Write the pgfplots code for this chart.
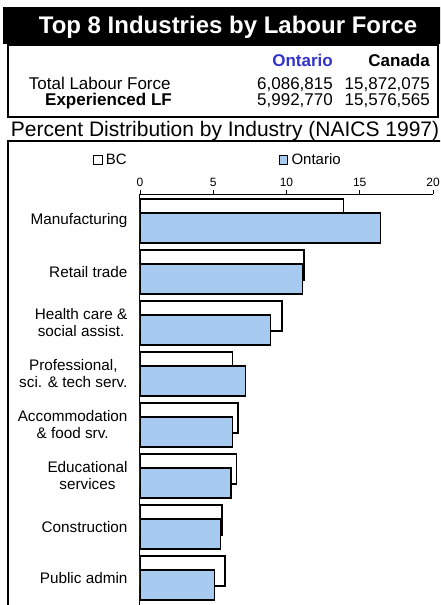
\documentclass[border=0pt]{standalone}
\usepackage{fontspec}
\setmainfont{Liberation Sans}
\usepackage{pgfplots}
\usepackage{pgfplotstable}
\pgfplotsset{compat=1.18}

\definecolor{onbar}{RGB}{166,202,240}
\definecolor{ontext}{RGB}{51,51,204}

% position (0 = bottom), BC share, Ontario share (percent)
\pgfplotstableread{
pos bc   ont
7   13.9 16.4
6   11.2 11.1
5   9.7  8.9
4   6.3  7.2
3   6.7  6.3
2   6.6  6.2
1   5.6  5.5
0   5.8  5.1
}\industry

\begin{document}
\begin{tikzpicture}
\useasboundingbox (0,0) rectangle (440pt,-605pt);
\clip (0,0) rectangle (440pt,-605pt);

% title band
\fill[black] (3pt,-7pt) rectangle (445pt,-44pt);
\node[anchor=base, inner sep=0pt, text=white,
      font=\fontsize{24}{28}\selectfont\bfseries] at (228pt,-33.3pt)
      {Top 8 Industries by Labour Force};

% header table
\draw[line width=1.2pt] (8pt,-45pt) rectangle (438pt,-117pt);
\begin{scope}[every node/.style={inner sep=0pt, font=\fontsize{17}{20}\selectfont}]
\node[anchor=base east, text=ontext, font=\fontsize{17}{20}\selectfont\bfseries] at (333pt,-66pt) {Ontario};
\node[anchor=base east, font=\fontsize{17}{20}\selectfont\bfseries] at (430pt,-66pt) {Canada};
\node[anchor=base west] at (28.7pt,-89pt) {Total Labour Force};
\node[anchor=base east] at (333pt,-89pt) {6,086,815};
\node[anchor=base east] at (430pt,-89pt) {15,872,075};
\node[anchor=base west, font=\fontsize{17}{20}\selectfont\bfseries] at (45pt,-105.5pt) {Experienced LF};
\node[anchor=base east] at (333pt,-105.5pt) {5,992,770};
\node[anchor=base east] at (430pt,-105.5pt) {15,576,565};
\end{scope}

\node[anchor=base, inner sep=0pt, font=\fontsize{21}{24}\selectfont] at (225pt,-136.7pt)
      {Percent Distribution by Industry (NAICS 1997)};

% chart frame
\draw[line width=1.2pt] (8pt,-620pt) -- (8pt,-141pt) -- (445pt,-141pt);

\begin{axis}[
    at={(140pt,-194pt)}, anchor=north west,
    width=293pt, height=411pt, scale only axis,
    xmin=0, xmax=20,
    ymin=-0.53, ymax=7.53,
    axis x line*=top, axis y line*=left,
    axis line style={-, line width=1pt},
    xtick={0,5,10,15,20},
    tick align=outside,
    major tick length=4pt,
    x tick style={line width=0.8pt, black},
    xticklabel style={font=\fontsize{12}{14}\selectfont},
    /pgf/number format/assume math mode=true,
    ytick={0,...,7},
    yticklabels={{Public admin}, {Construction}, {Educational\\services},
                 {Accommodation\\\& food srv.}, {Professional,\\sci. \& tech serv.},
                 {Health care \&\\social assist.}, {Retail trade}, {Manufacturing}},
    yticklabel style={align=center, font=\fontsize{15.3}{17}\selectfont, xshift=-5pt},
    y tick style={draw=none},
    bar width=0.588,
    legend columns=2,
    legend style={at={(-0.1604,1.0827)}, anchor=west, draw=none, fill=none,
                  inner sep=0pt, font=\fontsize{15}{17}\selectfont,
                  /tikz/every even column/.append style={column sep=150pt}},
]
\addplot[xbar, bar shift=0.137, fill=white, draw=black, line width=1.5pt,
         legend image code/.code={\draw[fill=white, draw=black, line width=1pt] (0pt,-4.5pt) rectangle (8.5pt,4.5pt);
                                  \path (9.5pt,0pt);}]
    table[x=bc, y=pos] {\industry};
\addplot[xbar, bar shift=-0.137, fill=onbar, draw=black, line width=1.5pt,
         legend image code/.code={\draw[fill=onbar, draw=black, line width=1pt] (0pt,-4.5pt) rectangle (8.5pt,4.5pt);
                                  \path (9.5pt,0pt);}]
    table[x=ont, y=pos] {\industry};
\legend{BC, Ontario}
\end{axis}
\end{tikzpicture}
\end{document}
